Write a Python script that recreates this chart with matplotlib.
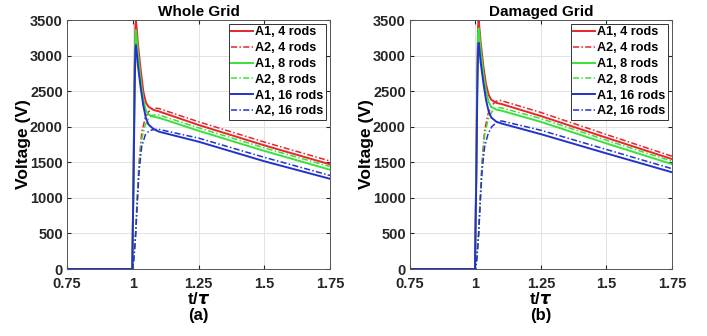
import matplotlib
matplotlib.use("Agg")
import matplotlib.pyplot as plt

plt.rcParams["font.family"] = ["Liberation Sans", "DejaVu Sans"]
plt.rcParams["font.weight"] = "bold"
plt.rcParams["mathtext.fontset"] = "dejavusans"

# time grids (t/tau)
t_a1 = [0.75, 0.998, 1.003, 1.007, 1.010, 1.012, 1.015, 1.02, 1.03, 1.04,
        1.05, 1.06, 1.08, 1.1, 1.25, 1.5, 1.75]
t_a2_whole = [0.75, 1.0, 1.005, 1.011, 1.017, 1.024, 1.034, 1.047, 1.06,
              1.075, 1.09, 1.1, 1.25, 1.5, 1.75]
t_a2_damaged = [0.75, 1.001, 1.006, 1.012, 1.018, 1.025, 1.035, 1.048, 1.062,
                1.077, 1.09, 1.1, 1.25, 1.5, 1.75]

# Whole grid voltages (V)
whole_a1_4 = [0, 0, 1400, 2800, 3420, 3490, 3380, 3150, 2800, 2500, 2340, 2280,
              2235, 2215, 2025, 1738, 1471]
whole_a1_8 = [0, 0, 1350, 2700, 3300, 3360, 3250, 3020, 2660, 2380, 2230, 2170,
              2140, 2125, 1943, 1660, 1395]
whole_a1_16 = [0, 0, 1250, 2500, 3080, 3150, 3050, 2850, 2550, 2300, 2120, 2030,
               1965, 1930, 1790, 1515, 1268]
whole_a2_4 = [0, 0, 200, 520, 1000, 1500, 1920, 2120, 2210, 2250, 2260, 2255,
              2070, 1785, 1518]
whole_a2_8 = [0, 0, 190, 500, 960, 1440, 1830, 2020, 2120, 2160, 2168, 2165,
              1985, 1703, 1440]
whole_a2_16 = [0, 0, 180, 480, 920, 1380, 1720, 1880, 1935, 1958, 1964, 1962,
               1840, 1570, 1315]

# Damaged grid voltages (V)
damaged_a1_4 = [0, 0, 1400, 2800, 3420, 3490, 3390, 3180, 2850, 2600, 2450, 2380,
                2335, 2318, 2150, 1845, 1545]
damaged_a1_8 = [0, 0, 1350, 2720, 3320, 3384, 3290, 3080, 2750, 2500, 2350, 2280,
                2240, 2225, 2068, 1765, 1474]
damaged_a1_16 = [0, 0, 1260, 2530, 3110, 3180, 3090, 2900, 2620, 2380, 2220, 2130,
                 2070, 2045, 1895, 1625, 1360]
damaged_a2_4 = [0, 0, 200, 520, 1000, 1500, 1950, 2180, 2300, 2355, 2372, 2365,
                2200, 1890, 1585]
damaged_a2_8 = [0, 0, 190, 500, 960, 1460, 1880, 2100, 2210, 2255, 2270, 2265,
                2115, 1810, 1515]
damaged_a2_16 = [0, 0, 180, 480, 920, 1380, 1720, 1900, 2000, 2050, 2075, 2081,
                 1950, 1680, 1410]

rods = ["4", "8", "16"]
colors = ["#E8262B", "#3BE03B", "#2233CC"]
x_ticks = [0.75, 1, 1.25, 1.5, 1.75]
x_tick_labels = ["0.75", "1", "1.25", "1.5", "1.75"]
y_ticks = [0, 500, 1000, 1500, 2000, 2500, 3000, 3500]

panels = [
    ("Whole Grid", "(a)", t_a2_whole,
     [whole_a1_4, whole_a1_8, whole_a1_16],
     [whole_a2_4, whole_a2_8, whole_a2_16]),
    ("Damaged Grid", "(b)", t_a2_damaged,
     [damaged_a1_4, damaged_a1_8, damaged_a1_16],
     [damaged_a2_4, damaged_a2_8, damaged_a2_16]),
]

fig = plt.figure(figsize=(7.07, 3.36), dpi=100)
axes_pos = [[0.0948, 0.1994, 0.372, 0.741], [0.5799, 0.1994, 0.3706, 0.741]]

for pos, (title, tag, t_a2, a1_list, a2_list) in zip(axes_pos, panels):
    ax = fig.add_axes(pos)
    for n, c, v1, v2 in zip(rods, colors, a1_list, a2_list):
        ax.plot(t_a1, v1, color=c, linewidth=1.4, label=f"A1, {n} rods")
        ax.plot(t_a2, v2, color=c, linewidth=1.1, linestyle=(0, (4, 1.5, 1, 1.5)),
                label=f"A2, {n} rods")
    ax.set_xlim(0.75, 1.75)
    ax.set_ylim(0, 3500)
    ax.set_xticks(x_ticks)
    ax.set_xticklabels(x_tick_labels)
    ax.set_yticks(y_ticks)
    ax.tick_params(labelsize=10.5, direction="in", length=3, colors="#262626",
                   top=True, right=True)
    ax.tick_params(axis="x", pad=6)
    ax.tick_params(axis="y", pad=3)
    for lbl in ax.get_xticklabels() + ax.get_yticklabels():
        lbl.set_fontweight("bold")
        lbl.set_color("#262626")
    ax.grid(True, color="#E3E3E3", linewidth=0.7)
    ax.set_axisbelow(True)
    for sp in ax.spines.values():
        sp.set_color("#555555")
        sp.set_linewidth(0.7)
    ax.set_title(title, fontsize=11, fontweight="bold", pad=3)
    ax.set_ylabel("Voltage (V)", fontsize=12.5, fontweight="bold", labelpad=-1)
    ax.set_xlabel(r"t/$\tau$", fontsize=12, fontweight="bold", labelpad=0)
    leg = ax.legend(loc="upper right", fontsize=9.1, frameon=True, fancybox=False,
                    edgecolor="#333333", framealpha=1, handlelength=1.7,
                    handletextpad=0.2, labelspacing=0.3, borderpad=0.2,
                    borderaxespad=0.3)
    leg.get_frame().set_linewidth(0.7)
    for txt in leg.get_texts():
        txt.set_fontweight("bold")
    fig.text(pos[0] + pos[2] / 2, 0.062, tag, ha="center", va="center",
             fontsize=12, fontweight="bold")

fig.savefig("out.png", dpi=100)
